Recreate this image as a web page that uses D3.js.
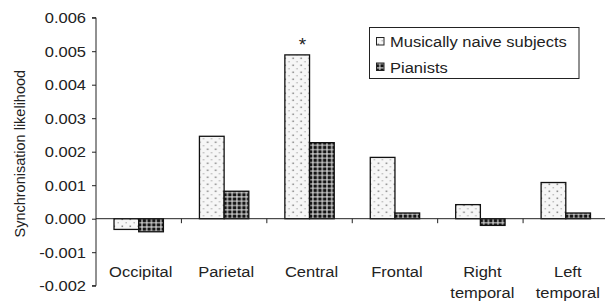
<!DOCTYPE html>
<html><head><meta charset="utf-8">
<script src="https://cdn.jsdelivr.net/npm/d3@7"></script>
<style>
html,body{margin:0;padding:0;background:#fff;}
text{font-family:"Liberation Sans",Arial,sans-serif;fill:#222;}
</style></head>
<body><svg id="chart" width="605" height="303"></svg>
<script>
const categories = ["Occipital","Parietal","Central","Frontal","Right\ntemporal","Left\ntemporal"];
const seriesNames = ["Musically naive subjects","Pianists"];
const naive = [-0.00032, 0.00246, 0.00489, 0.00183, 0.00042, 0.00108];
const pianists = [-0.00039, 0.00082, 0.00227, 0.00017, -0.00020, 0.00017];
const yTicks = [-0.002,-0.001,0,0.001,0.002,0.003,0.004,0.005,0.006];
const yTickLabels = ["-0.002","-0.001","0.000","0.001","0.002","0.003","0.004","0.005","0.006"];
const yTitle = "Synchronisation likelihood";
const significance = ["", "", "*", "", "", ""];

const svg = d3.select("#chart");
const SX = 1.1; // horizontal text stretch
const FS = 15;

const defs = svg.append("defs");
const p1 = defs.append("pattern").attr("id","pNaive").attr("patternUnits","userSpaceOnUse")
  .attr("width",8).attr("height",7);
p1.append("rect").attr("width",8).attr("height",7).attr("fill","#f6f6f6");
p1.append("rect").attr("x",1.5).attr("y",1.5).attr("width",1.6).attr("height",1.6).attr("fill","#8a8a8a");
p1.append("rect").attr("x",5.5).attr("y",5).attr("width",1.4).attr("height",1.4).attr("fill","#b8b8b8");

const p2 = defs.append("pattern").attr("id","pPian").attr("patternUnits","userSpaceOnUse")
  .attr("width",4.7).attr("height",4.3);
p2.append("rect").attr("width",4.7).attr("height",4.3).attr("fill","#141414");
p2.append("rect").attr("x",3.2).attr("y",0).attr("width",1.1).attr("height",4.3).attr("fill","#e6e6e6");
p2.append("rect").attr("x",0).attr("y",2.9).attr("width",4.7).attr("height",1.0).attr("fill","#dedede");

const x = d3.scaleBand().domain(categories).range([96, 608.5]).paddingInner(0).paddingOuter(0);
const x1 = d3.scaleBand().domain(seriesNames).range([0, x.bandwidth()]).paddingInner(0).paddingOuter(0.73);
const y = d3.scaleLinear().domain([-0.002, 0.006]).range([285.7, 17.7]);
const fills = {"Musically naive subjects":"url(#pNaive)","Pianists":"url(#pPian)"};

// bars
const data = categories.map((c,i)=>({c, vals:[{s:seriesNames[0],v:naive[i]},{s:seriesNames[1],v:pianists[i]}]}));
const g = svg.append("g");
g.selectAll("g.grp").data(data).join("g").attr("class","grp")
  .attr("transform",d=>`translate(${x(d.c)},0)`)
  .selectAll("rect").data(d=>d.vals).join("rect")
  .attr("x",d=>x1(d.s)).attr("width",x1.bandwidth())
  .attr("y",d=>y(Math.max(0,d.v))).attr("height",d=>Math.abs(y(d.v)-y(0)))
  .attr("fill",d=>fills[d.s]).attr("stroke","#111").attr("stroke-width",1.3);

// y axis
const ya = svg.append("g").attr("transform","translate(96,0)")
  .call(d3.axisLeft(y).tickValues(yTicks).tickFormat((d,i)=>yTickLabels[i]).tickSize(4).tickPadding(6));
ya.select(".domain").attr("stroke","#222").attr("d",`M-4,${y(0.006)}H0V${y(-0.002)}H-4`);
ya.selectAll(".tick line").attr("stroke","#222");
ya.selectAll(".tick text").attr("font-size",FS).attr("fill","#222")
  .attr("font-family","Liberation Sans, Arial, sans-serif")
  .attr("transform",`scale(${SX},1)`)
  .attr("x",-10/SX);

// zero line
svg.append("line").attr("x1",96).attr("x2",605).attr("y1",y(0)).attr("y2",y(0)).attr("stroke","#222").attr("stroke-width",1);
// category boundary ticks
svg.selectAll("line.ct").data(categories.slice(1)).join("line").attr("class","ct")
  .attr("x1",d=>x(d)).attr("x2",d=>x(d)).attr("y1",y(0)).attr("y2",y(0)+4.5).attr("stroke","#222");

// category labels
svg.selectAll("text.cat").data(categories).join("text").attr("class","cat")
  .attr("transform",d=>`translate(${x(d)+x.bandwidth()/2+2},277) scale(${SX},1)`)
  .attr("text-anchor","middle").attr("font-size",FS)
  .each(function(d){
    const lines = d.split("\n");
    d3.select(this).selectAll("tspan").data(lines).join("tspan")
      .attr("x",0).attr("dy",(l,i)=>i===0?0:21).text(l=>l);
  });

// significance
svg.selectAll("text.sig").data(categories.filter((c,i)=>significance[i])).join("text").attr("class","sig")
  .attr("x",d=>x(d)+x.bandwidth()/2-7).attr("y",51).attr("text-anchor","middle")
  .attr("font-size",19).text(d=>significance[categories.indexOf(d)]);

// y title
svg.append("text").attr("transform",`translate(25,${(y(0.006)+y(-0.002))/2+2}) rotate(-90)`)
  .attr("text-anchor","middle").attr("font-size",14.5).text(yTitle);

// legend
const lg = svg.append("g");
lg.append("rect").attr("x",369.5).attr("y",27.5).attr("width",209.5).attr("height",51)
  .attr("fill","#fff").attr("stroke","#222").attr("stroke-width",1);
seriesNames.forEach((s,i)=>{
  const cy = 41.5 + i*25.5;
  lg.append("rect").attr("x",376.5).attr("y",cy-4).attr("width",7.5).attr("height",7.5)
    .attr("fill",fills[s]).attr("stroke","#222").attr("stroke-width",1);
  lg.append("text").attr("transform",`translate(390,${cy+5.5}) scale(${SX},1)`)
    .attr("font-size",FS).text(s);
});
</script></body></html>
